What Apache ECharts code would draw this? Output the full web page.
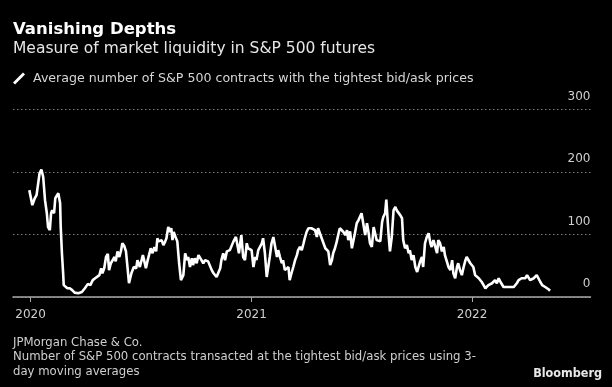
<!DOCTYPE html>
<html>
<head>
<meta charset="utf-8">
<script src="https://cdn.jsdelivr.net/npm/echarts@6/dist/echarts.min.js"></script>
<style>
html,body{margin:0;padding:0;background:#000;}
#chart{width:612px;height:387px;}
</style>
</head>
<body>
<div id="chart"></div>
<script>
// ---- data (days since 2020-01-01, value) ----
const dayOffsets = [-2,3,7,10,13,15,18,21,24,27,29,32,34,36,39,41,43,46,47,49,50,52,54,55,58,61,65,69,73,79,85,90,95,99,103,107,110,114,117,119,122,125,128,130,133,136,139,141,144,147,150,152,155,158,161,163,165,167,171,175,177,181,186,188,191,194,197,199,202,205,208,210,212,214,217,220,223,225,228,231,233,235,237,240,243,246,249,251,253,256,259,261,264,267,269,272,275,278,281,283,286,289,292,294,297,300,303,305,308,311,314,316,319,322,325,327,330,333,336,338,340,342,345,347,349,352,355,358,360,363,366,369,372,374,377,380,383,385,388,391,394,396,399,402,405,408,410,413,416,418,421,424,427,429,432,435,438,441,443,446,449,452,454,457,460,463,465,468,471,474,476,479,482,485,488,490,493,496,499,501,504,507,510,512,515,518,521,524,526,529,532,535,537,540,543,546,548,551,554,557,559,562,565,568,570,573,576,579,582,584,587,589,591,593,595,598,601,604,606,609,612,615,617,620,623,626,628,631,634,637,640,642,645,648,650,653,656,659,662,664,667,670,673,675,678,681,684,686,689,692,695,698,700,703,706,708,711,714,717,720,722,725,728,731,733,736,739,742,745,747,750,753,756,758,761,764,766,769,772,775,778,780,783,786,789,791,794,797,800,802,805,808,811,813,816,819,822,824,827,830,833,836,838,841,844,847,849,852,855,858,860];
const values = [171,147,158,163,166,198,204,192,155,134,112,107,134,139,134,158,155,166,168,150,112,70,38,19,16,14,14,11,7,6,8,14,21,19,27,30,30,35,46,38,46,64,69,43,54,59,64,57,73,64,75,86,82,73,43,22,19,38,48,46,59,48,67,59,46,59,57,78,70,80,73,94,89,86,91,83,89,94,112,104,110,91,104,96,89,54,27,30,35,70,59,64,48,62,51,62,54,67,64,59,54,59,57,57,54,43,38,35,32,32,46,59,70,59,73,70,75,78,89,86,96,86,70,85,99,64,59,86,78,80,75,48,64,59,75,78,86,94,70,32,35,64,86,96,80,64,75,64,54,59,43,43,48,27,38,48,59,67,75,80,75,86,94,104,110,112,110,112,107,96,110,107,94,86,78,80,73,51,59,70,78,89,102,110,107,104,99,107,91,105,78,78,102,118,123,126,134,136,99,118,107,86,80,112,115,91,89,89,120,128,134,156,156,96,73,96,139,144,139,142,131,126,91,78,83,70,75,59,67,48,40,40,57,64,48,86,96,102,86,80,91,89,70,91,86,73,80,67,70,48,43,59,38,30,48,54,43,35,48,59,64,67,54,51,48,35,32,30,27,24,19,14,14,19,18,22,19,27,22,30,24,22,16,16,16,16,16,14,16,19,22,27,27,30,32,30,35,37,27,30,30,32,35,32,24,19,19,16,14,12,10];
const yearLabels = ['2020','2021','2022'];
const yTicks = [0, 100, 200, 300];
const seriesName = 'Average number of S&P 500 contracts with the tightest bid/ask prices';
const titleText = 'Vanishing Depths';
const subtitleText = 'Measure of market liquidity in S&P 500 futures';
const footerLines = ['JPMorgan Chase & Co.', 'Number of S&P 500 contracts transacted at the tightest bid/ask prices using 3-', 'day moving averages'];

const DAY = 86400000;
const base = Date.UTC(2020, 0, 1);
const seriesData = dayOffsets.map((d, i) => [base + d * DAY, values[i]]);
const yearTicks = yearLabels.map(y => Date.UTC(+y, 0, 1));

const chart = echarts.init(document.getElementById('chart'), null, {renderer: 'canvas'});
const FONT = 'DejaVu Sans';
chart.setOption({
  backgroundColor: '#000',
  animation: false,
  title: [
    {text: titleText, left: 13, top: 21, padding: 0,
     textStyle: {color: '#fff', fontFamily: FONT, fontWeight: 'bold', fontSize: 16.5}},
    {text: subtitleText, left: 13, top: 41, padding: 0,
     textStyle: {color: '#e6e6e6', fontFamily: FONT, fontWeight: 'normal', fontSize: 15.5}},
    {text: footerLines.join('\n'), left: 13, top: 335.5, padding: 0,
     textStyle: {color: '#cfcfcf', fontFamily: 'DejaVu Sans Condensed', fontWeight: 'normal', fontSize: 13, lineHeight: 14.3}}
  ],
  legend: {
    left: 13, top: 72, padding: 0,
    data: [seriesName],
    icon: 'path://M0,10 L2,12 L12,2 L10,0 Z',
    itemWidth: 12, itemHeight: 12, itemGap: 6,
    textStyle: {color: '#d6d6d6', fontFamily: FONT, fontSize: 12.6, padding: [0, 0, 0, 3]}
  },
  graphic: [
    {type: 'text', right: 10, top: 367,
     style: {text: 'Bloomberg', fill: '#e8e8e8', font: 'bold 12.5px "DejaVu Sans Condensed"'}}
  ],
  grid: {left: 13, right: 21.5, top: 109.5, bottom: 90},
  xAxis: {
    type: 'value',
    min: base - 29 * DAY,
    max: base + 927 * DAY,
    axisLine: {show: true, onZero: false, lineStyle: {color: '#a8a8a8', width: 1.5}},
    axisTick: {show: true, customValues: yearTicks, length: 5, lineStyle: {color: '#a8a8a8', width: 1}},
    axisLabel: {
      customValues: yearTicks,
      color: '#cfcfcf', fontFamily: FONT, fontSize: 12, margin: 12,
      formatter: v => { const i = yearTicks.indexOf(v); return i >= 0 ? yearLabels[i] : ''; }
    },
    splitLine: {show: false}
  },
  yAxis: {
    type: 'value', position: 'right',
    min: yTicks[0], max: yTicks[yTicks.length - 1], interval: 100,
    axisLine: {show: false}, axisTick: {show: false},
    axisLabel: {inside: true, margin: 0, color: '#cfcfcf', fontFamily: FONT, fontSize: 12,
                verticalAlign: 'bottom', padding: [0, 0, 7, 0]},
    splitLine: {show: true, lineStyle: {color: '#7a7a7a', type: [1.5, 2.5], width: 1}}
  },
  series: [{
    name: seriesName,
    type: 'line',
    data: seriesData,
    showSymbol: false,
    symbol: 'none',
    lineStyle: {color: '#ffffff', width: 2.6},
    itemStyle: {color: '#ffffff'}
  }]
});
</script>
</body>
</html>
